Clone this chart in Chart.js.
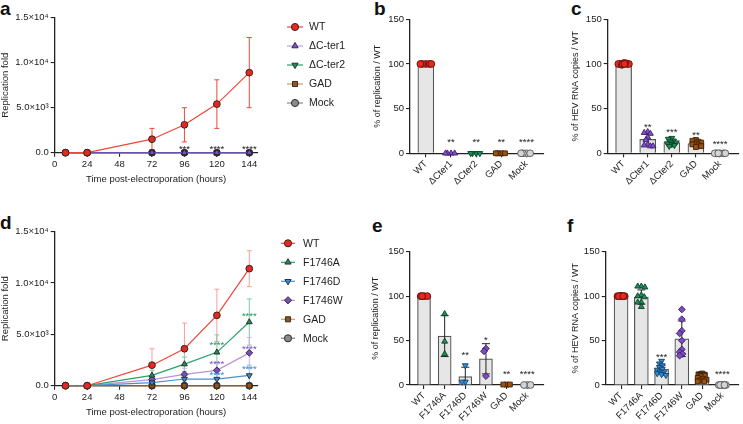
<!DOCTYPE html>
<html>
<head>
<meta charset="utf-8">
<script src="https://cdn.jsdelivr.net/npm/chart.js@4.4.0/dist/chart.umd.min.js"></script>
<style>
  body { margin: 0; background: #fff; width: 743px; height: 424px; overflow: hidden; position: relative;
         font-family: Arial, "Liberation Sans", Helvetica, sans-serif; }
  canvas { position: absolute; }
  .lbl { position: absolute; font-weight: bold; font-size: 19px; line-height: 1; color: #111; }
</style>
</head>
<body>
<div class="lbl" style="left:0px;top:-1px">a</div>
<div class="lbl" style="left:374px;top:-1px">b</div>
<div class="lbl" style="left:571px;top:-1px">c</div>
<div class="lbl" style="left:0px;top:213px">d</div>
<div class="lbl" style="left:372px;top:216px">e</div>
<div class="lbl" style="left:567px;top:216px">f</div>

<canvas id="ca" width="372" height="190" style="left:0px;top:6px"></canvas>
<canvas id="cb" width="180" height="190" style="left:368px;top:6px"></canvas>
<canvas id="cc" width="183" height="190" style="left:560px;top:6px"></canvas>
<canvas id="cd" width="372" height="202" style="left:0px;top:222px"></canvas>
<canvas id="ce" width="180" height="202" style="left:368px;top:222px"></canvas>
<canvas id="cf" width="183" height="202" style="left:560px;top:222px"></canvas>

<script>
// ---- data ----
const hours = [8, 24, 72, 96, 120, 144];
const hourTicks = [0, 24, 48, 72, 96, 120, 144];
const foldTicks = [0, 5000, 10000, 15000];
const foldLabels = ['0.0', '5.0×10³', '1.0×10⁴', '1.5×10⁴'];
const pctTicks = [0, 50, 100, 150];

// panel a
const aNames = ['WT', 'ΔC-ter1', 'ΔC-ter2', 'GAD', 'Mock'];
const aWT = [0, 0, 1500, 3100, 5400, 8900];
const aWTsd = [0, 0, 1200, 1900, 2700, 3900];
const aCter1 = [0, 0, 0, 0, 0, 0];
const aCter2 = [0, 0, 0, 0, 0, 0];
const aGAD = [0, 0, 0, 0, 0, 0];
const aMock = [0, 0, 0, 0, 0, 0];
const aStars = ['', '', '', '***', '****', '****'];
const aStarY = [0, 0, 0, 550, 550, 550];

// panel b
const bCats = ['WT', 'ΔCter1', 'ΔCter2', 'GAD', 'Mock'];
const bMeans = [100, 0, 0, 0, 0];
const bSD = [0, 0, 0, 0, 0];
const bWT = [100, 100, 100, 100, 100];
const bCter1 = [0, 0, 0, 0];
const bCter2 = [0, 0, 0, 0];
const bGAD = [0, 0, 0, 0];
const bMock = [0, 0, 0, 0];
const bStars = ['', '**', '**', '**', '****'];
const bStarY = [0, 15, 15, 15, 15];

// panel c
const cCats = ['WT', 'ΔCter1', 'ΔCter2', 'GAD', 'Mock'];
const cMeans = [100, 15.5, 12, 11, 0];
const cSD = [0, 6.5, 3, 2.8, 0];
const cWT = [101, 100, 100, 100, 99, 100, 101, 100, 100];
const cCter1 = [24, 23, 22, 18, 15, 10, 9, 8, 8];
const cCter2 = [17, 16, 14, 13, 12, 11, 10, 9, 8];
const cGAD = [15, 14, 13, 12, 11, 10, 9, 8, 7];
const cMock = [0, 0, 0, 0, 0, 0];
const cStars = ['', '**', '***', '**', '****'];
const cStarY = [0, 31, 26, 22, 12];

// panel d
const dNames = ['WT', 'F1746A', 'F1746D', 'F1746W', 'GAD', 'Mock'];
const dWT = [0, 0, 2000, 3600, 6850, 11400];
const dWTsd = [0, 0, 1600, 2500, 2550, 1750];
const dA = [0, 0, 1000, 2100, 3250, 6200];
const dAsd = [0, 0, 500, 700, 1700, 2250];
const dD = [0, 0, 300, 650, 650, 1000];
const dDsd = [0, 0, 200, 400, 450, 1000];
const dW = [0, 0, 600, 1100, 1500, 3200];
const dWsd = [0, 0, 400, 600, 800, 1500];
const dGAD = [0, 0, 0, 0, 0, 0];
const dMock = [0, 0, 0, 0, 0, 0];
const dStars = ['', '', '', '', '****', '****'];
const dStarYA = [0, 0, 0, 0, 4100, 6900];
const dStarYD = [0, 0, 0, 0, 1200, 1750];
const dStarYW = [0, 0, 0, 0, 2300, 3750];

// panel e
const eCats = ['WT', 'F1746A', 'F1746D', 'F1746W', 'GAD', 'Mock'];
const eMeans = [100, 55, 9.5, 29.5, 0.5, 0];
const eSD = [0, 23, 10.5, 17, 0, 0];
const eWT = [100, 100, 100, 100];
const eA = [80, 49, 35];
const eD = [22, 3.5, 3.5];
const eW = [41, 38, 10];
const eGAD = [0.5, 0.5, 0.5];
const eMock = [0, 0, 0];
const eStars = ['', '', '**', '*', '**', '****'];
const eStarY = [0, 0, 36, 53, 14, 14];

// panel f
const fCats = ['WT', 'F1746A', 'F1746D', 'F1746W', 'GAD', 'Mock'];
const fMeans = [100, 99, 17.5, 52, 8, 0];
const fSD = [0, 8, 4.5, 20, 3, 0];
const fWT = [100, 100, 100, 100, 100, 100, 100, 100, 100];
const fA = [111, 111, 110, 101, 100, 99, 93, 93, 88];
const fD = [27, 24, 22, 20, 18, 17, 15, 14, 13, 12, 11];
const fW = [85, 74, 61, 58, 50, 40, 37, 35, 33];
const fGAD = [13, 12, 11, 10, 8, 7, 6, 5, 4, 4];
const fMock = [0, 0, 0, 0, 0, 0, 0, 0, 0];
const fStars = ['', '', '***', '', '***', '****'];
const fStarY = [0, 0, 33, 0, 14, 14];

// ---- styles ----
const ink = '#222';
const fam = 'Arial, "Liberation Sans", Helvetica, sans-serif';
Chart.defaults.font.family = fam;
Chart.defaults.color = ink;

const RED = {style: 'circle', rot: 0, fill: '#e8281f', edge: '#5a110c', line: '#f0463a', err: '#f0463a', star: ink};
const PURPLE = {style: 'triangle', rot: 0, fill: '#8150cc', edge: '#3a2066', line: '#6d4fb4', legLine: '#b9a3df'};
const GREEN_DN = {style: 'triangle', rot: 180, fill: '#1d8f5a', edge: '#0c3f26', line: '#2aa068'};
const GREEN_UP = {style: 'triangle', rot: 0, fill: '#1d8f5a', edge: '#0c3f26', line: '#2aa068', err: '#80c9a4', star: '#1d9a5e'};
const BROWN = {style: 'rect', rot: 0, fill: '#9a5210', edge: '#3f2006', line: '#a0561a', legLine: '#c99a6e'};
const GRAY = {style: 'circle', rot: 0, fill: '#8a8a8a', edge: '#333', line: '#888'};
const LGRAY = {style: 'circle', rot: 0, fill: '#d4d4d4', edge: '#555'};
const BLUE = {style: 'triangle', rot: 180, fill: '#2d8fe0', edge: '#163f66', line: '#4a90d2', err: '#92c2ec', star: '#3a8ad6'};
const VIOLET = {style: 'rectRot', rot: 0, fill: '#7b4bc0', edge: '#35205a', line: '#b894dc', err: '#cbb4e6', star: '#7b4bc0'};
const RED_D = Object.assign({}, RED, {err: '#f6a096'});

const axisGrid = {display: true, drawOnChartArea: false, drawTicks: true, tickLength: 4, color: ink, lineWidth: 1.1};
const axisBorder = {display: true, color: ink, width: 1.3};

// ---- drawing helpers ----
function drawErr(chart, xs, ys, sd, color, cap) {
  const {ctx, scales: {x, y}} = chart;
  ctx.save();
  ctx.strokeStyle = color;
  ctx.lineWidth = 1;
  xs.forEach((xv, i) => {
    if (!sd[i]) return;
    const px = x.getPixelForValue(xv);
    const top = y.getPixelForValue(ys[i] + sd[i]);
    const low = ys[i] - sd[i];
    const bot = y.getPixelForValue(Math.max(low, 0));
    ctx.beginPath();
    ctx.moveTo(px, top); ctx.lineTo(px, bot);
    ctx.moveTo(px - cap, top); ctx.lineTo(px + cap, top);
    if (low > 0) { ctx.moveTo(px - cap, bot); ctx.lineTo(px + cap, bot); }
    ctx.stroke();
  });
  ctx.restore();
}

function drawStars(chart, s) {
  const {ctx, scales: {x, y}} = chart;
  ctx.save();
  ctx.fillStyle = s.color || ink;
  ctx.font = '9.5px ' + fam;
  ctx.textAlign = 'center';
  ctx.textBaseline = 'middle';
  s.labels.forEach((t, i) => {
    if (!t) return;
    ctx.fillText(t, x.getPixelForValue(s.xs[i]), y.getPixelForValue(s.ys[i]) + 2);
  });
  ctx.restore();
}

function drawLegend(chart, l) {
  const ctx = chart.ctx;
  ctx.save();
  ctx.font = '10.5px ' + fam;
  ctx.textBaseline = 'middle';
  l.items.forEach((it, i) => {
    const y = l.y0 + i * l.dy;
    ctx.strokeStyle = it.s.legLine || it.s.line;
    ctx.lineWidth = 1.2;
    ctx.beginPath(); ctx.moveTo(l.x0, y); ctx.lineTo(l.x1, y); ctx.stroke();
    ctx.fillStyle = it.s.fill;
    ctx.strokeStyle = ink;
    ctx.lineWidth = 0.9;
    Chart.helpers.drawPoint(ctx, {pointStyle: it.s.style, radius: 3.6, rotation: it.s.rot, borderWidth: 0.9}, (l.x0 + l.x1) / 2, y);
    ctx.fillStyle = ink;
    ctx.fillText(it.name, l.tx, y + 0.5);
  });
  ctx.restore();
}

function extras(o) {
  return {
    id: 'extras',
    beforeDatasetsDraw(chart) {
      (o.lineErr || []).forEach(e => drawErr(chart, hours, e.ys, e.sd, e.color, 2.5));
    },
    afterDatasetDraw(chart, args) {
      if (o.barErr && args.meta.type === 'bar') {
        drawErr(chart, o.barErr.ys.map((v, i) => i), o.barErr.ys, o.barErr.sd, ink, 4);
      }
    },
    afterDatasetsDraw(chart) {
      (o.stars || []).forEach(s => drawStars(chart, s));
      if (o.legend) drawLegend(chart, o.legend);
    }
  };
}

function lineSet(label, vals, s) {
  return {
    type: 'line', label,
    data: hours.map((h, i) => ({x: h, y: vals[i]})),
    borderColor: s.line, borderWidth: 1.2,
    pointStyle: s.style, pointRotation: s.rot, pointRadius: 3.4,
    pointBackgroundColor: s.fill, pointBorderColor: ink, pointBorderWidth: 0.9,
    tension: 0, clip: false
  };
}

function lineChart(id, sets, o) {
  return new Chart(document.getElementById(id), {
    type: 'line',
    data: {datasets: sets},
    options: {
      responsive: false, animation: false, events: [],
      layout: {padding: o.pad},
      plugins: {legend: {display: false}, tooltip: {enabled: false}},
      scales: {
        x: {
          type: 'linear', min: 0, max: 150, offset: false,
          afterBuildTicks: s => { s.ticks = hourTicks.map(v => ({value: v})); },
          afterFit: s => { s.height = o.xh; },
          grid: axisGrid, border: axisBorder,
          ticks: {font: {size: 9.5}, padding: 2, maxRotation: 0, autoSkip: false},
          title: {display: true, text: 'Time post-electroporation (hours)', font: {size: 9.5}, padding: {top: 0, bottom: o.xtb}}
        },
        y: {
          type: 'linear', min: 0, max: 15000,
          afterBuildTicks: s => { s.ticks = foldTicks.map(v => ({value: v})); },
          afterFit: s => { s.width = o.yw; },
          grid: axisGrid, border: axisBorder,
          ticks: {font: {size: 9.5}, padding: 2, callback: v => foldLabels[foldTicks.indexOf(v)]},
          title: {display: true, text: 'Replication fold', font: {size: 9.5}, padding: {top: 0, bottom: 0}}
        }
      }
    },
    plugins: [extras(o)]
  });
}

// bee-swarm kept inside the bar: close values sit side by side, crowded ones overlap
function swarm(vals, i, kx, lim) {
  const placed = [];
  const cands = [];
  for (let k = -6; k <= 6; k++) cands.push(k * lim / 6);
  cands.sort((a, b) => Math.abs(a) - Math.abs(b));
  return vals.map(v => {
    const py = v * 0.889;
    const gap = c => placed.reduce((m, p) => Math.min(m, Math.hypot(p[0] - c, p[1] - py)), 99);
    let off = cands.find(c => gap(c) >= 3.2);
    if (off === undefined) off = cands.reduce((b, c) => gap(c) > gap(b) ? c : b, 0);
    placed.push([off, py]);
    return {x: i + off / kx, y: v};
  });
}

function barChart(id, cats, means, sd, groups, styles, stars, o) {
  const sets = groups.map((g, i) => ({
    type: 'scatter', data: swarm(g, i, o.kx, o.bw / 2 - 2.5), order: 0, clip: false,
    pointStyle: styles[i].style, pointRotation: styles[i].rot, pointRadius: 3.4,
    pointBackgroundColor: styles[i].fill, pointBorderColor: styles[i].edge, pointBorderWidth: 0.9
  }));
  sets.push({
    type: 'bar', data: means.map((m, i) => ({x: i, y: m})), order: 10,
    backgroundColor: '#e6e6e6', borderColor: '#555', borderWidth: 1.2,
    barThickness: o.bw, clip: false
  });
  return new Chart(document.getElementById(id), {
    type: 'bar',
    data: {datasets: sets},
    options: {
      responsive: false, animation: false, events: [],
      layout: {padding: o.pad},
      plugins: {legend: {display: false}, tooltip: {enabled: false}},
      scales: {
        x: {
          type: 'linear', min: o.xmin, max: o.xmax, offset: false,
          afterBuildTicks: s => { s.ticks = cats.map((c, i) => ({value: i})); },
          afterFit: s => { s.height = o.xh; },
          grid: Object.assign({}, axisGrid, {offset: false}), border: axisBorder,
          ticks: {font: {size: 9.5}, padding: 1, minRotation: 45, maxRotation: 45, autoSkip: false,
                  callback: v => cats[v]}
        },
        y: {
          type: 'linear', min: 0, max: 150,
          afterBuildTicks: s => { s.ticks = pctTicks.map(v => ({value: v})); },
          afterFit: s => { s.width = o.yw; },
          grid: axisGrid, border: axisBorder,
          ticks: {font: {size: 9.5}, padding: 2},
          title: {display: true, text: o.ytitle, font: {size: 9}, padding: {top: o.ytp, bottom: 0}}
        }
      }
    },
    plugins: [extras({barErr: {ys: means, sd: sd}, stars: [{xs: cats.map((c, i) => i), labels: stars.labels, ys: stars.ys}]})]
  });
}

// ---- panel a ----
const aStyles = [RED, PURPLE, GREEN_DN, BROWN, GRAY];
lineChart('ca', [
  lineSet(aNames[0], aWT, RED),
  lineSet(aNames[1], aCter1, PURPLE),
  lineSet(aNames[2], aCter2, GREEN_DN),
  lineSet(aNames[3], aGAD, BROWN),
  lineSet(aNames[4], aMock, GRAY)
], {
  pad: {left: 0, top: 11.7, right: 114.6, bottom: 0}, xh: 43.3, yw: 54.7, xtb: 10.5,
  lineErr: [{ys: aWT, sd: aWTsd, color: RED.err}],
  stars: [{xs: hours, labels: aStars, ys: aStarY}],
  legend: {items: aNames.map((n, i) => ({name: n, s: aStyles[i]})), x0: 287, x1: 303, tx: 309, y0: 21, dy: 19}
});

// ---- panel d ----
const dStyles = [RED_D, GREEN_UP, BLUE, VIOLET, BROWN, GRAY];
lineChart('cd', [
  lineSet(dNames[0], dWT, RED_D),
  lineSet(dNames[1], dA, GREEN_UP),
  lineSet(dNames[2], dD, BLUE),
  lineSet(dNames[3], dW, VIOLET),
  lineSet(dNames[4], dGAD, BROWN),
  lineSet(dNames[5], dMock, GRAY)
], {
  pad: {left: 0, top: 9.7, right: 114.6, bottom: 0}, xh: 38.3, yw: 54.7, xtb: 5.6,
  lineErr: [
    {ys: dWT, sd: dWTsd, color: RED_D.err},
    {ys: dA, sd: dAsd, color: GREEN_UP.err},
    {ys: dW, sd: dWsd, color: VIOLET.err},
    {ys: dD, sd: dDsd, color: BLUE.err}
  ],
  stars: [
    {xs: hours, labels: dStars, ys: dStarYA, color: GREEN_UP.star},
    {xs: hours, labels: dStars, ys: dStarYW, color: VIOLET.star},
    {xs: hours, labels: dStars, ys: dStarYD, color: BLUE.star}
  ],
  legend: {items: dNames.map((n, i) => ({name: n, s: dStyles[i]})), x0: 281, x1: 295, tx: 303, y0: 21.3, dy: 19}
});

// ---- panels b, c, e, f ----
const bcStyles = [RED, PURPLE, GREEN_DN, BROWN, LGRAY];
const efStyles = [RED, GREEN_UP, BLUE, VIOLET, BROWN, LGRAY];

barChart('cb', bCats, bMeans, bSD, [bWT, bCter1, bCter2, bGAD, bMock], bcStyles,
  {labels: bStars, ys: bStarY},
  {pad: {left: 0, top: 13.3, right: 4, bottom: 0}, xh: 42.7, yw: 42, xmin: -0.63, xmax: 4.66,
   kx: 25.3, bw: 16, ytitle: '% of replication / WT', ytp: 4});

barChart('cc', cCats, cMeans, cSD, [cWT, cCter1, cCter2, cGAD, cMock], bcStyles,
  {labels: cStars, ys: cStarY},
  {pad: {left: 0, top: 13.3, right: 0, bottom: 0}, xh: 42.7, yw: 47.7, xmin: -0.66, xmax: 4.75,
   kx: 25, bw: 16, ytitle: '% of HEV RNA copies / WT', ytp: 10});

barChart('ce', eCats, eMeans, eSD, [eWT, eA, eD, eW, eGAD, eMock], efStyles,
  {labels: eStars, ys: eStarY},
  {pad: {left: 0, top: 29.7, right: 3, bottom: 0}, xh: 39, yw: 42, xmin: -0.68, xmax: 5.77,
   kx: 20.9, bw: 13, ytitle: '% of replication / WT', ytp: 2});

barChart('cf', fCats, fMeans, fSD, [fWT, fA, fD, fW, fGAD, fMock], efStyles,
  {labels: fStars, ys: fStarY},
  {pad: {left: 0, top: 29.7, right: 0, bottom: 0}, xh: 39, yw: 45.7, xmin: -0.76, xmax: 5.78,
   kx: 21, bw: 14, ytitle: '% of HEV RNA copies / WT', ytp: 10});
</script>
</body>
</html>
